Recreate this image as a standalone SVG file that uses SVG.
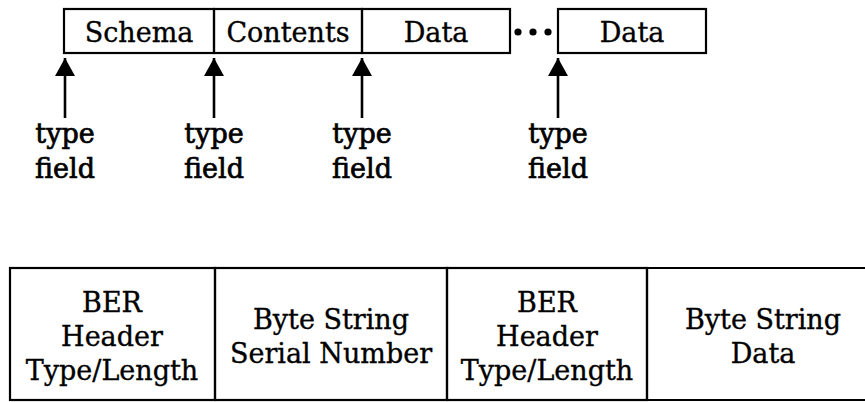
<svg xmlns="http://www.w3.org/2000/svg" width="865" height="402" viewBox="0 0 865 402">
<style>
.box{fill:none;stroke:#000;stroke-width:2.2}
.lbl{font-family:"DejaVu Serif","Liberation Serif",serif;font-size:27px;fill:#000;stroke:#000;stroke-width:0.35;text-anchor:middle}
.tf{font-family:"DejaVu Serif","Liberation Serif",serif;font-size:27px;fill:#000;stroke:#000;stroke-width:0.7;text-anchor:middle}
.conn{stroke:#000;stroke-width:2.6;fill:none}
</style>
<defs>
<marker id="ah" viewBox="0 0 20 18" refX="10" refY="0" markerWidth="20" markerHeight="18" markerUnits="userSpaceOnUse" orient="0">
<path d="M10 0 L20 18 L0 18 Z" fill="#000"/>
</marker>
</defs>
<rect width="865" height="402" fill="#fff"/>
<g id="top-record">
<g id="schema"><rect class="box" x="64" y="9" width="150" height="44"/><text class="lbl" x="139" y="42">Schema</text></g>
<g id="contents"><rect class="box" x="214" y="9" width="148" height="44"/><text class="lbl" x="288" y="42">Contents</text></g>
<g id="data1"><rect class="box" x="362" y="9" width="148" height="44"/><text class="lbl" x="436" y="42">Data</text></g>
<g id="ellipsis"><circle cx="518" cy="32" r="3.6"/><circle cx="533" cy="32" r="3.6"/><circle cx="548" cy="32" r="3.6"/></g>
<g id="data2"><rect class="box" x="558" y="9" width="148" height="44"/><text class="lbl" x="632" y="42">Data</text></g>
</g>
<g id="connectors">
<line class="conn" x1="65" y1="118" x2="65" y2="58" marker-end="url(#ah)"/>
<line class="conn" x1="214" y1="118" x2="214" y2="58" marker-end="url(#ah)"/>
<line class="conn" x1="362" y1="118" x2="362" y2="58" marker-end="url(#ah)"/>
<line class="conn" x1="558" y1="118" x2="558" y2="58" marker-end="url(#ah)"/>
</g>
<g id="type-field-1"><text class="tf" x="65" y="143">type</text><text class="tf" x="65" y="178">field</text></g>
<g id="type-field-2"><text class="tf" x="214" y="143">type</text><text class="tf" x="214" y="178">field</text></g>
<g id="type-field-3"><text class="tf" x="362" y="143">type</text><text class="tf" x="362" y="178">field</text></g>
<g id="type-field-4"><text class="tf" x="558" y="143">type</text><text class="tf" x="558" y="178">field</text></g>
<g id="ber-record">
<g id="ber-header-1"><rect class="box" x="10" y="268" width="205" height="132"/>
<text class="lbl" x="112" y="312">BER</text><text class="lbl" x="112" y="346">Header</text><text class="lbl" x="112" y="380">Type/Length</text></g>
<g id="serial-number"><rect class="box" x="215" y="268" width="232" height="132"/>
<text class="lbl" x="331" y="329">Byte String</text><text class="lbl" x="331" y="363">Serial Number</text></g>
<g id="ber-header-2"><rect class="box" x="447" y="268" width="200" height="132"/>
<text class="lbl" x="547" y="312">BER</text><text class="lbl" x="547" y="346">Header</text><text class="lbl" x="547" y="380">Type/Length</text></g>
<g id="byte-string-data"><path class="box" d="M647 268 L870 268 M647 268 L647 400 L870 400"/>
<text class="lbl" x="763" y="329">Byte String</text><text class="lbl" x="763" y="363">Data</text></g>
</g>
</svg>
